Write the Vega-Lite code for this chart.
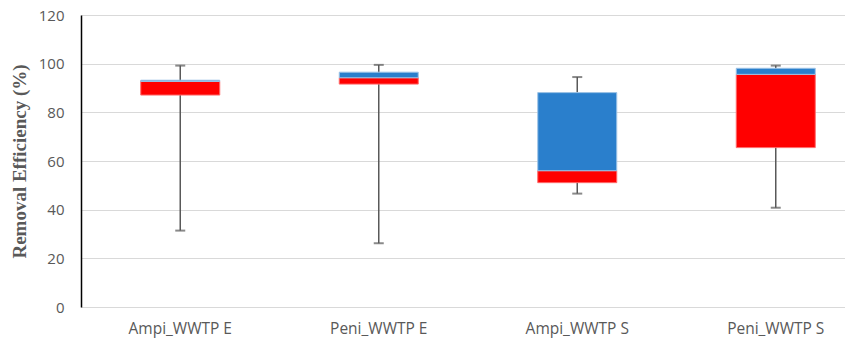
{
  "$schema": "https://vega.github.io/schema/vega-lite/v6.json",
  "width": 794,
  "height": 292,
  "autosize": {"type": "none"},
  "padding": {"left": 81, "top": 15, "right": 0, "bottom": 44},
  "background": "white",
  "config": {
    "view": {"stroke": null},
    "axis": {"labelFont": "Open Sans", "labelColor": "#595959", "labelFontSize": 13}
  },
  "data": {
    "values": [
      {"cat": "Ampi_WWTP E", "min": 31.4, "q1": 87.1, "median": 92.7, "q3": 93.2, "max": 99.2},
      {"cat": "Peni_WWTP E", "min": 26.2, "q1": 91.6, "median": 94.2, "q3": 96.5, "max": 99.5},
      {"cat": "Ampi_WWTP S", "min": 46.6, "q1": 51.1, "median": 56.0, "q3": 88.1, "max": 94.5},
      {"cat": "Peni_WWTP S", "min": 40.8, "q1": 65.5, "median": 95.6, "q3": 98.1, "max": 99.2}
    ]
  },
  "encoding": {
    "x": {
      "field": "cat", "type": "nominal", "sort": null,
      "scale": {"paddingInner": 0, "paddingOuter": 0},
      "axis": {"title": null, "labelAngle": 0, "domain": false, "ticks": false, "labelPadding": 14, "labelFontSize": 15.5}
    }
  },
  "layer": [
    {
      "mark": {"type": "rule", "color": "#595959", "strokeWidth": 1.5},
      "encoding": {
        "y": {
          "field": "min", "type": "quantitative",
          "scale": {"domain": [0, 120]},
          "axis": {
            "title": "Removal Efficiency (%)", "titleFont": "Liberation Serif", "titleFontSize": 19,
            "titleFontWeight": "bold", "titleColor": "#595959", "titlePadding": 9,
            "values": [0, 20, 40, 60, 80, 100, 120], "ticks": false, "labelPadding": 17,
            "labelFontSize": 15, "domainColor": "#000000", "domainWidth": 1.5,
            "grid": true, "gridColor": "#d9d9d9", "gridWidth": 1.2
          }
        },
        "y2": {"field": "max"}
      }
    },
    {
      "mark": {"type": "tick", "color": "#595959", "orient": "horizontal", "size": 10, "thickness": 2},
      "encoding": {"y": {"field": "min", "type": "quantitative"}}
    },
    {
      "mark": {"type": "tick", "color": "#595959", "orient": "horizontal", "size": 10, "thickness": 2},
      "encoding": {"y": {"field": "max", "type": "quantitative"}}
    },
    {
      "mark": {"type": "bar", "color": "#FF0000", "size": 79, "stroke": "#ff6b6b", "strokeWidth": 1},
      "encoding": {"y": {"field": "q1", "type": "quantitative"}, "y2": {"field": "median"}}
    },
    {
      "mark": {"type": "bar", "color": "#2a7fcc", "size": 79, "stroke": "#9dc3e6", "strokeWidth": 1},
      "encoding": {"y": {"field": "median", "type": "quantitative"}, "y2": {"field": "q3"}}
    }
  ]
}
